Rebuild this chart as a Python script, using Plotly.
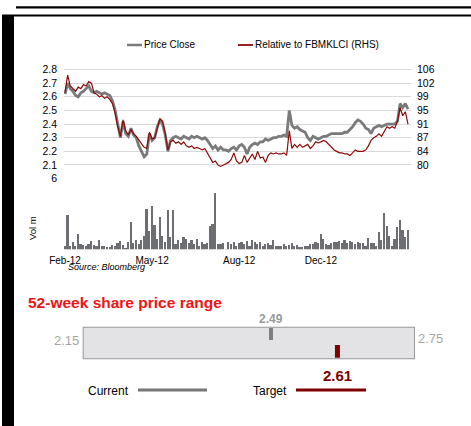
import plotly.graph_objects as go

W, H = 471, 426
def fx(x): return x / W
def fy(y): return 1 - y / H

FONT = "Liberation Sans, Arial, sans-serif"

# ---------------- data ----------------
x_tick_labels = ["Feb-12", "May-12", "Aug-12", "Dec-12"]
x_tick_index = [0, 33, 66, 97]

price_close = [
    2.62, 2.70, 2.66, 2.64, 2.61, 2.60, 2.63, 2.64, 2.66, 2.68,
    2.64, 2.63, 2.64, 2.63, 2.62, 2.63, 2.62, 2.61, 2.57, 2.50,
    2.40, 2.30, 2.42, 2.33, 2.31, 2.37, 2.32, 2.30, 2.24, 2.20,
    2.16, 2.18, 2.33, 2.28, 2.30, 2.38, 2.43, 2.40, 2.32, 2.20,
    2.28, 2.30, 2.31, 2.30, 2.29, 2.31, 2.30, 2.29, 2.31, 2.30,
    2.31, 2.30, 2.29, 2.30, 2.28, 2.25, 2.22, 2.24, 2.21, 2.23,
    2.21, 2.21, 2.20, 2.22, 2.23, 2.21, 2.24, 2.25, 2.23, 2.18,
    2.23, 2.25, 2.26, 2.25, 2.27, 2.27, 2.29, 2.28, 2.29, 2.30,
    2.30, 2.31, 2.31, 2.32, 2.31, 2.50, 2.39, 2.37, 2.38, 2.36,
    2.35, 2.34, 2.30, 2.28, 2.31, 2.30, 2.29, 2.30, 2.31, 2.31,
    2.32, 2.33, 2.33, 2.33, 2.33, 2.33, 2.34, 2.34, 2.36, 2.38,
    2.41, 2.43, 2.42, 2.40, 2.37, 2.36, 2.33, 2.37, 2.38, 2.39,
    2.38, 2.39, 2.40, 2.40, 2.40, 2.40, 2.42, 2.55, 2.52, 2.55,
    2.51,
]

relative_fbmklci = [
    99.7, 104.5, 101.5, 100.8, 100.1, 101.2, 100.8, 101.9, 101.5, 102.7,
    102.3, 99.7, 99.3, 98.6, 98.9, 98.2, 98.6, 97.8, 96.7, 94.1,
    90.4, 87.8, 92.3, 89.3, 88.2, 89.7, 88.5, 87.8, 86.7, 85.9,
    84.8, 84.5, 88.9, 87.1, 87.4, 90.0, 92.6, 91.9, 88.5, 84.1,
    86.3, 86.7, 85.9, 86.3, 85.6, 86.3, 85.2, 84.8, 85.2, 84.5,
    84.8, 84.5, 84.1, 84.5, 83.3, 81.9, 80.7, 81.1, 80.0, 79.6,
    80.0, 80.4, 80.7, 81.5, 83.3, 81.1, 80.4, 80.7, 82.6, 80.7,
    81.9, 83.0, 81.5, 83.7, 81.9, 82.2, 80.7, 82.6, 83.3, 83.0,
    83.3, 83.0, 83.0, 83.3, 82.6, 89.3, 84.5, 85.6, 84.8, 85.6,
    84.8, 85.2, 85.6, 84.5, 85.2, 86.3, 86.0, 86.3, 86.7, 86.3,
    85.6, 84.8, 84.1, 83.7, 83.3, 83.3, 83.0, 83.0, 82.6, 83.3,
    84.1, 83.7, 83.7, 83.7, 84.1, 85.2, 86.7, 87.4, 87.8, 88.5,
    87.8, 89.3, 90.4, 90.0, 90.4, 90.0, 91.9, 95.6, 93.4, 94.5,
    91.1,
]

volume_m = [
    0.35, 2.96, 0.30, 0.65, 0.30, 1.30, 0.45, 0.40, 0.35, 0.45,
    0.73, 0.40, 0.35, 0.85, 0.30, 0.35, 0.25, 0.20, 0.40, 0.30,
    0.60, 0.75, 0.40, 0.10, 0.70, 2.34, 0.60, 0.85, 0.50, 0.80,
    1.20, 3.50, 1.60, 3.70, 2.10, 0.90, 2.76, 1.20, 0.70, 3.40,
    1.07, 3.40, 0.50, 0.80, 0.60, 1.07, 0.90, 0.55, 0.80, 0.50,
    0.90, 0.35, 0.70, 0.50, 0.60, 2.00, 2.20, 4.80, 0.50, 0.45,
    0.60, 0.05, 0.70, 0.50, 0.70, 0.30, 0.60, 0.70, 0.50, 0.75,
    0.30, 0.80, 0.65, 0.50, 0.70, 0.30, 0.45, 0.60, 0.40, 0.85,
    0.35, 0.30, 0.30, 0.45, 0.35, 0.40, 0.60, 0.30, 0.40, 0.25,
    0.20, 0.35, 0.30, 0.50, 0.45, 0.70, 0.60, 1.30, 0.90, 0.50,
    0.40, 0.60, 0.65, 0.70, 0.75, 0.60, 0.85, 0.60, 0.75, 0.70,
    0.50, 0.65, 0.55, 0.60, 0.30, 1.00, 0.55, 0.60, 0.35, 1.55,
    0.85, 3.10, 2.05, 1.20, 0.30, 0.90, 1.90, 2.50, 1.70, 1.10,
    1.70,
]

price_ticks = [2.1, 2.2, 2.3, 2.4, 2.5, 2.6, 2.7, 2.8]
rhs_tick_labels = ["80", "84", "87", "91", "95", "99", "102", "106"]
volume_ticks = [6]

low_52w = 2.15
high_52w = 2.75
current_price = 2.49
target_price = 2.61

# ---------------- colours ----------------
GREY_LINE = "#7A7A7A"
RED_LINE = "#8B0A0A"
BAR = "#6D6E71"
GRID = "#D9D9D9"
DARK_RED = "#7F0000"

idx = list(range(len(price_close)))
rhs_lo, rhs_hi = 80.0, 106.0
p_lo, p_hi = 2.1, 2.8
pad = 0.02
rhs_scale = (rhs_hi - rhs_lo) / (p_hi - p_lo)
rhs_tickvals = [rhs_lo + k * (rhs_hi - rhs_lo) / 7 for k in range(8)]

fig = go.Figure()

fig.add_trace(go.Scatter(
    x=idx, y=price_close, mode="lines", xaxis="x", yaxis="y",
    line=dict(color=GREY_LINE, width=2.8), showlegend=False, name="Price Close"))
fig.add_trace(go.Scatter(
    x=idx, y=relative_fbmklci, mode="lines", xaxis="x", yaxis="y4",
    line=dict(color=RED_LINE, width=1.2), showlegend=False,
    name="Relative to FBMKLCI (RHS)"))
fig.add_trace(go.Bar(
    x=idx, y=volume_m, xaxis="x2", yaxis="y2", width=0.65,
    marker=dict(color=BAR, line=dict(width=0)), showlegend=False, name="Vol"))

# range markers
fig.add_trace(go.Scatter(
    x=[current_price, current_price], y=[0.59, 0.96], mode="lines",
    xaxis="x3", yaxis="y3", line=dict(color="#7F7F7F", width=4), showlegend=False))
fig.add_trace(go.Scatter(
    x=[target_price, target_price], y=[0.05, 0.44], mode="lines",
    xaxis="x3", yaxis="y3", line=dict(color=DARK_RED, width=5), showlegend=False))

xdom = [fx(64), fx(411)]
xrange = [-0.38, 131.14]
tickfont = dict(family=FONT, size=10.5, color="#000000")

fig.update_layout(
    width=W, height=H, autosize=False,
    margin=dict(l=0, r=0, t=0, b=0, pad=0),
    paper_bgcolor="white", plot_bgcolor="rgba(0,0,0,0)",
    font=dict(family=FONT, color="#000000"),
    bargap=0,
    xaxis=dict(domain=xdom, range=xrange, showticklabels=False, showgrid=False,
               zeroline=False, showline=False, ticks="", automargin=False),
    yaxis=dict(domain=[fy(167.7), fy(66.8)], range=[p_lo - pad, p_hi + pad],
               tickvals=price_ticks, ticktext=[f"{v:.1f}" for v in price_ticks],
               showgrid=True, gridcolor=GRID, gridwidth=1, zeroline=False,
               tickfont=tickfont, ticks="", ticklabelstandoff=6, showline=False,
               automargin=False),
    yaxis4=dict(overlaying="y", side="right", anchor="x",
                range=[rhs_lo - pad * rhs_scale, rhs_hi + pad * rhs_scale],
                tickvals=rhs_tickvals, ticktext=rhs_tick_labels,
                showgrid=False, zeroline=False, tickfont=tickfont, ticks="",
                ticklabelstandoff=5, automargin=False),
    xaxis2=dict(domain=xdom, range=xrange, anchor="y2",
                tickvals=x_tick_index, ticktext=x_tick_labels,
                tickfont=dict(family=FONT, size=10, color="#000000"),
                showgrid=False, zeroline=False, showline=False, ticks="",
                ticklabelstandoff=4, automargin=False),
    yaxis2=dict(domain=[fy(249.3), fy(178.5)], range=[0, 6], anchor="x2",
                tickvals=volume_ticks, ticktext=[str(v) for v in volume_ticks],
                showgrid=True, gridcolor=GRID, zeroline=False, ticks="",
                tickfont=tickfont, ticklabelstandoff=6, automargin=False),
    xaxis3=dict(domain=[fx(82.7), fx(415)], range=[low_52w, high_52w], anchor="y3",
                visible=False),
    yaxis3=dict(domain=[fy(359.3), fy(326.7)], range=[0, 1], anchor="x3",
                visible=False),
)

shapes = []
# page frame
shapes.append(dict(type="rect", xref="paper", yref="paper", x0=fx(2), x1=fx(14),
                   y0=0, y1=fy(15), fillcolor="black", line=dict(width=0), layer="above"))
shapes.append(dict(type="rect", xref="paper", yref="paper", x0=fx(2), x1=1,
                   y0=fy(16.6), y1=fy(14.6), fillcolor="black", line=dict(width=0)))
shapes.append(dict(type="rect", xref="paper", yref="paper", x0=fx(16), x1=1,
                   y0=fy(8.4), y1=fy(6.3), fillcolor="black", line=dict(width=0)))
# top legend samples
shapes.append(dict(type="line", xref="paper", yref="paper", x0=fx(127), x1=fx(142),
                   y0=fy(45), y1=fy(45), line=dict(color=GREY_LINE, width=2.5)))
shapes.append(dict(type="line", xref="paper", yref="paper", x0=fx(238), x1=fx(253),
                   y0=fy(45), y1=fy(45), line=dict(color=RED_LINE, width=1.8)))
# 52-week box
shapes.append(dict(type="rect", xref="x3", yref="y3", x0=low_52w, x1=high_52w,
                   y0=0, y1=1, fillcolor="#E3E3E5", line=dict(color="#9A9A9A", width=2),
                   layer="below"))
# bottom legend lines
shapes.append(dict(type="line", xref="paper", yref="paper", x0=fx(138), x1=fx(207),
                   y0=fy(390), y1=fy(390), line=dict(color="#777777", width=3)))
shapes.append(dict(type="line", xref="paper", yref="paper", x0=fx(296), x1=fx(366),
                   y0=fy(390), y1=fy(390), line=dict(color=DARK_RED, width=3)))
fig.update_layout(shapes=shapes)

ann = []
def txt(text, x, y, size, color="#000000", xanchor="left", xref="paper", bold=False,
        italic=False, angle=0, xshift=0):
    t = text
    if bold:
        t = f"<b>{t}</b>"
    if italic:
        t = f"<i>{t}</i>"
    ann.append(dict(text=t, x=x, y=fy(y), xref=xref, yref="paper", xanchor=xanchor,
                    yanchor="middle", showarrow=False, textangle=angle, xshift=xshift,
                    font=dict(family=FONT, size=size, color=color), borderpad=0))

txt("Price Close", fx(143), 45, 10)
txt("Relative to FBMKLCI (RHS)", fx(254), 45, 10)
txt("Vol m", fx(33), 228, 9.5, xanchor="center", angle=-90)
txt("Source: Bloomberg", fx(67), 267, 9, italic=True)
txt("52-week share price range", fx(27), 302, 15.5, color="#F01414", bold=True)
txt(f"{current_price:.2f}", current_price, 319, 12, color="#999999", xanchor="center",
    xref="x3", bold=True)
txt(f"{target_price:.2f}", target_price, 375, 15, color=DARK_RED, xanchor="center",
    xref="x3", bold=True)
txt(f"{low_52w:.2f}", low_52w, 340, 13, color="#A6A6A6", xanchor="right", xref="x3",
    xshift=-3)
txt(f"{high_52w:.2f}", high_52w, 338, 13, color="#A6A6A6", xanchor="left", xref="x3",
    xshift=2)
txt("Current", fx(87), 391, 12)
txt("Target", fx(252), 391, 12)
fig.update_layout(annotations=ann)

fig.write_html(
    "out.html",
    config={"displayModeBar": False, "responsive": False},
    post_script="document.body.style.margin='0';document.body.style.padding='0';"
                "document.body.style.overflow='hidden';",
)
